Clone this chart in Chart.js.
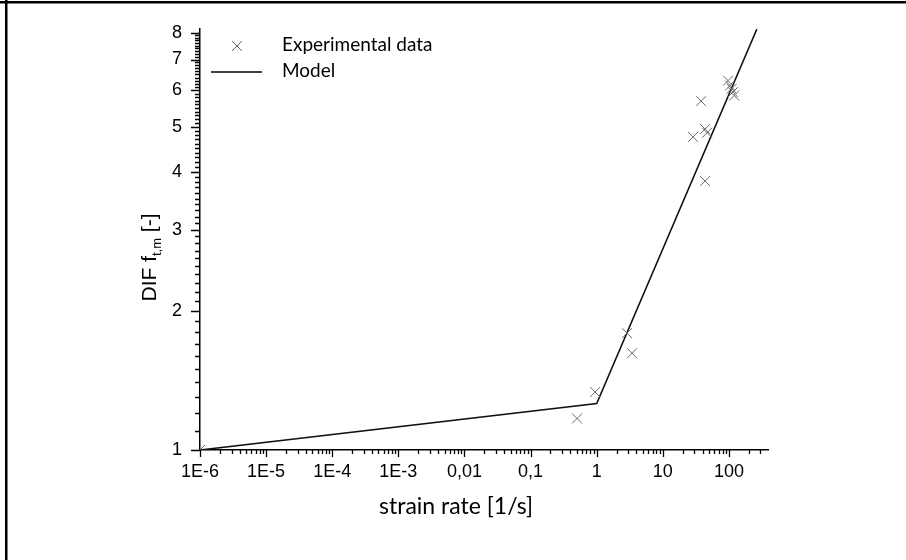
<!DOCTYPE html>
<html>
<head>
<meta charset="utf-8">
<script src="https://cdn.jsdelivr.net/npm/chart.js@4/dist/chart.umd.min.js"></script>
<style>
  html, body { margin: 0; padding: 0; background: #fff; }
  #wrap { width: 906px; height: 560px; position: relative; }
</style>
</head>
<body>
<div id="wrap"><canvas id="difChart" width="906" height="560"></canvas></div>
<script>
// Experimental points (strain rate [1/s], DIF)
const expStrainRate = [1e-6, 0.505, 0.945, 2.88, 3.43, 28.7, 38, 43.6, 46.8, 43.6, 97, 104, 110, 115, 120];
const expDif        = [1,    1.17,  1.335, 1.79, 1.62, 4.76, 5.69, 4.95, 4.86, 3.82, 6.3, 6.15, 6.05, 5.95, 5.85];

// Model (bilinear in log-log)
const modelStrainRate = [1e-6, 1, 264];
const modelDif        = [1, 1.26, 8.14];

// Axis ticks
const xMajorTicks = [1e-6, 1e-5, 1e-4, 1e-3, 0.01, 0.1, 1, 10, 100];
const xTickLabels = ["1E-6", "1E-5", "1E-4", "1E-3", "0,01", "0,1", "1", "10", "100"];
const yMajorTicks = [1, 2, 3, 4, 5, 6, 7, 8];
const yTickLabels = ["1", "2", "3", "4", "5", "6", "7", "8"];

const X_MIN = 1e-6, X_MAX = 390;
const Y_MIN = 1, Y_MAX = 8.15;

// minor tick positions (axis structure only)
const xMinorTicks = [];
xMajorTicks.forEach(d => {
  for (let k = 2; k <= 9; k++) {
    if (d * k <= X_MAX) xMinorTicks.push(d * k);
  }
});
const yMinorTicks = [];
for (let i = 11; i < 81; i++) {
  if (i % 10 !== 0) yMinorTicks.push(i / 10);
}

const tickFont = { family: "'Liberation Sans', Arial, sans-serif", size: 18 };
const labelFont = "Lato, 'Open Sans', sans-serif";

const decorPlugin = {
  id: "decor",
  afterDraw(chart) {
    const ctx = chart.ctx;
    const xs = chart.scales.x, ys = chart.scales.y;
    const area = chart.chartArea;
    ctx.save();

    // page frame (top and left)
    ctx.fillStyle = "#000";
    ctx.fillRect(0, 1, 906, 2.5);
    ctx.fillRect(5, 0, 2.5, 560);

    // tick marks
    ctx.strokeStyle = "#000";
    ctx.lineWidth = 1.3;
    ctx.beginPath();
    xMajorTicks.forEach(v => {
      const px = Math.round(xs.getPixelForValue(v)) + 0.5;
      ctx.moveTo(px, area.bottom); ctx.lineTo(px, area.bottom + 7);
    });
    xMinorTicks.forEach(v => {
      const px = Math.round(xs.getPixelForValue(v)) + 0.5;
      ctx.moveTo(px, area.bottom); ctx.lineTo(px, area.bottom + 4);
    });
    yMajorTicks.forEach(v => {
      const py = Math.round(ys.getPixelForValue(v)) + 0.5;
      ctx.moveTo(area.left, py); ctx.lineTo(area.left - 9, py);
    });
    yMinorTicks.forEach(v => {
      const py = Math.round(ys.getPixelForValue(v)) + 0.5;
      ctx.moveTo(area.left, py); ctx.lineTo(area.left - 5, py);
    });
    ctx.stroke();

    // y axis title with subscript
    ctx.fillStyle = "#000";
    ctx.translate(156, (area.top + area.bottom) / 2 + 18);
    ctx.rotate(-Math.PI / 2);
    ctx.textBaseline = "alphabetic";
    const big = "21px 'Liberation Sans', Arial, sans-serif";
    const small = "13px 'Liberation Sans', Arial, sans-serif";
    const parts = [["DIF f", big, 0], ["t,m", small, 5], [" [-]", big, 0]];
    let total = 0;
    parts.forEach(p => { ctx.font = p[1]; total += ctx.measureText(p[0]).width; });
    let cx = -total / 2;
    parts.forEach(p => {
      ctx.font = p[1];
      ctx.fillText(p[0], cx, p[2]);
      cx += ctx.measureText(p[0]).width;
    });
    ctx.setTransform(1, 0, 0, 1, 0, 0);

    // x axis title
    ctx.font = "23px " + labelFont;
    ctx.textAlign = "center";
    ctx.textBaseline = "middle";
    ctx.fillText("strain rate [1/s]", 456, 507);

    // legend
    ctx.textAlign = "left";
    ctx.font = "19px " + labelFont;
    ctx.strokeStyle = "#666";
    ctx.lineWidth = 1;
    ctx.beginPath();
    ctx.moveTo(232, 41); ctx.lineTo(242, 51);
    ctx.moveTo(242, 41); ctx.lineTo(232, 51);
    ctx.stroke();
    ctx.fillText("Experimental data", 282, 45);
    ctx.strokeStyle = "#000";
    ctx.lineWidth = 1.5;
    ctx.beginPath();
    ctx.moveTo(211, 72); ctx.lineTo(262, 72);
    ctx.stroke();
    ctx.fillText("Model", 282, 71);

    ctx.restore();
  }
};

new Chart(document.getElementById("difChart"), {
  type: "scatter",
  data: {
    datasets: [
      {
        label: "Experimental data",
        data: expStrainRate.map((x, i) => ({ x: x, y: expDif[i] })),
        pointStyle: "crossRot",
        pointRadius: 7,
        pointBorderWidth: 1,
        pointBorderColor: "#6a6a6a",
        pointBackgroundColor: "#6a6a6a",
        clip: 0
      },
      {
        label: "Model",
        type: "line",
        data: modelStrainRate.map((x, i) => ({ x: x, y: modelDif[i] })),
        borderColor: "#111",
        borderWidth: 1.6,
        pointRadius: 0,
        tension: 0,
        fill: false
      }
    ]
  },
  options: {
    responsive: false,
    animation: false,
    layout: { padding: { top: 29, right: 138, left: 0, bottom: 0 } },
    plugins: {
      legend: { display: false },
      tooltip: { enabled: false }
    },
    scales: {
      x: {
        type: "logarithmic",
        position: "bottom",
        min: X_MIN,
        max: X_MAX,
        grid: { display: false },
        border: { display: true, color: "#000", width: 1.5 },
        ticks: {
          autoSkip: false,
          maxRotation: 0,
          padding: 3,
          color: "#000",
          font: tickFont,
          callback: (v, i) => xTickLabels[i]
        },
        afterBuildTicks: s => { s.ticks = xMajorTicks.map(v => ({ value: v })); },
        afterFit: s => { s.height = 110; }
      },
      y: {
        type: "logarithmic",
        min: Y_MIN,
        max: Y_MAX,
        grid: { display: false },
        border: { display: true, color: "#000", width: 1.5 },
        ticks: {
          autoSkip: false,
          padding: 10,
          color: "#000",
          font: tickFont,
          callback: (v, i) => yTickLabels[i]
        },
        afterBuildTicks: s => { s.ticks = yMajorTicks.map(v => ({ value: v })); },
        afterFit: s => { s.width = 200; }
      }
    }
  },
  plugins: [decorPlugin]
});
</script>
</body>
</html>
